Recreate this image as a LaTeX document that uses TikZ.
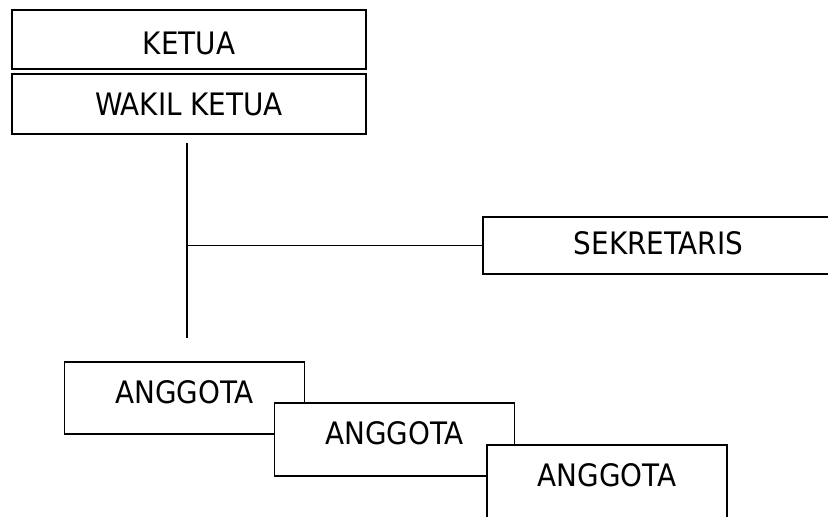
\documentclass[tikz,border=0pt]{standalone}
\usepackage{fontspec}
\setmainfont{DejaVu Sans Condensed}
\usetikzlibrary{positioning}

\tikzset{
    kotak/.style={draw, fill=white, line width=0.9pt, inner xsep=0pt, inner ysep=0pt,
        minimum height=0pt, font=\fontsize{22}{26}\selectfont},
    garis/.style={line width=0.9pt}
}

\begin{document}
\begin{tikzpicture}[x=0.025cm, y=-0.025cm]
    \path[use as bounding box, clip] (0,0) rectangle (828,516);

    % Pimpinan
    \node[kotak, minimum width=8.85cm, text height=31.4pt, text depth=10.5pt] (ketua) at (189,39.5) {KETUA};
    \node[kotak, minimum width=8.85cm, text height=29.5pt, text depth=13pt] (wakil) at (189,104) {WAKIL KETUA};

    % Sekretaris
    \node[kotak, minimum width=8.775cm, text height=26.7pt, text depth=13.8pt] (sekretaris) at (658.5,245.5) {SEKRETARIS};

    % Garis penghubung
    \coordinate (atas) at (187,143);
    \coordinate (bawah) at (187,338);
    \coordinate (cabang) at (187,245.5);
    \draw[garis] (atas) -- (bawah);
    \draw[garis] (cabang) -- (sekretaris.west);

    % Anggota
    \node[kotak, minimum width=6cm, text height=29.3pt, text depth=21.9pt] (anggota1) at (184.5,398) {ANGGOTA};
    \node[kotak, minimum width=6cm, text height=29.3pt, text depth=22.6pt] (anggota2) at (394.5,439.5) {ANGGOTA};
    \node[kotak, minimum width=6cm, text height=29.3pt, text depth=22.6pt] (anggota3) at (607,481.5) {ANGGOTA};
\end{tikzpicture}
\end{document}
